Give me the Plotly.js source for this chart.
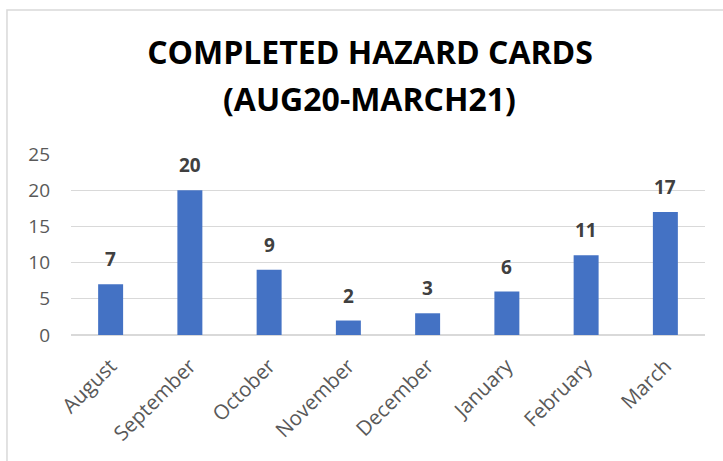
<!DOCTYPE html>
<html>
<head>
<meta charset="utf-8">
<script src="https://cdn.plot.ly/plotly-3.0.1.min.js"></script>
<style>
html,body{margin:0;padding:0;background:#fff;}
#chart{width:723px;height:461px;}
</style>
</head>
<body>
<div id="chart"></div>
<script>
const months = ["August","September","October","November","December","January","February","March"];
const cards = [7,20,9,2,3,6,11,17];
const yTicks = [0,5,10,15,20,25];
const titleLine1 = "COMPLETED HAZARD CARDS";
const titleLine2 = "(AUG20-MARCH21)";

const FONT = "Open Sans, sans-serif";

const trace = {
  type: "bar",
  x: months,
  y: cards,
  marker: {color: "#4472C4"},
  hoverinfo: "skip"
};

const valueLabels = months.map((m, i) => ({
  x: m, y: cards[i], xref: "x", yref: "y",
  text: "<b>" + cards[i] + "</b>",
  showarrow: false, yanchor: "bottom", yshift: 10,
  font: {family: FONT, size: 19, color: "#404040"}
}));

const layout = {
  width: 723, height: 461,
  margin: {l: 71, r: 18, t: 154, b: 126},
  paper_bgcolor: "#fff", plot_bgcolor: "#fff",
  bargap: 0.685,
  showlegend: false,
  title: {
    text: "<b>" + titleLine1 + "</b>",
    font: {family: FONT, size: 32, color: "#000"},
    x: 0.5118, xanchor: "center", xref: "container",
    y: 0.885, yanchor: "middle", yref: "container"
  },
  xaxis: {
    tickangle: -45,
    tickfont: {family: FONT, size: 20.5, color: "#595959"},
    showgrid: false, zeroline: false, showline: false, ticks: "",
    ticklabelstandoff: 14
  },
  yaxis: {
    range: [0, 25],
    tickvals: yTicks,
    tickfont: {family: FONT, size: 19, color: "#595959"},
    showgrid: true, gridcolor: "#D9D9D9", gridwidth: 1,
    zeroline: true, zerolinecolor: "#D9D9D9", zerolinewidth: 1.5,
    showline: false, ticks: "", ticklabelstandoff: 20
  },
  annotations: [{
    xref: "paper", yref: "paper", x: 0.4716, y: 1.307,
    xanchor: "center", yanchor: "middle", showarrow: false,
    text: "<b>" + titleLine2 + "</b>",
    font: {family: FONT, size: 32, color: "#000"}
  }].concat(valueLabels),
  shapes: [{
    type: "rect", xref: "paper", yref: "paper",
    x0: -0.101, x1: 1.04, y0: -0.75, y1: 1.796,
    line: {color: "#D9D9D9", width: 1.5}
  }]
};

Plotly.newPlot("chart", [trace], layout, {staticPlot: true});
</script>
</body>
</html>
